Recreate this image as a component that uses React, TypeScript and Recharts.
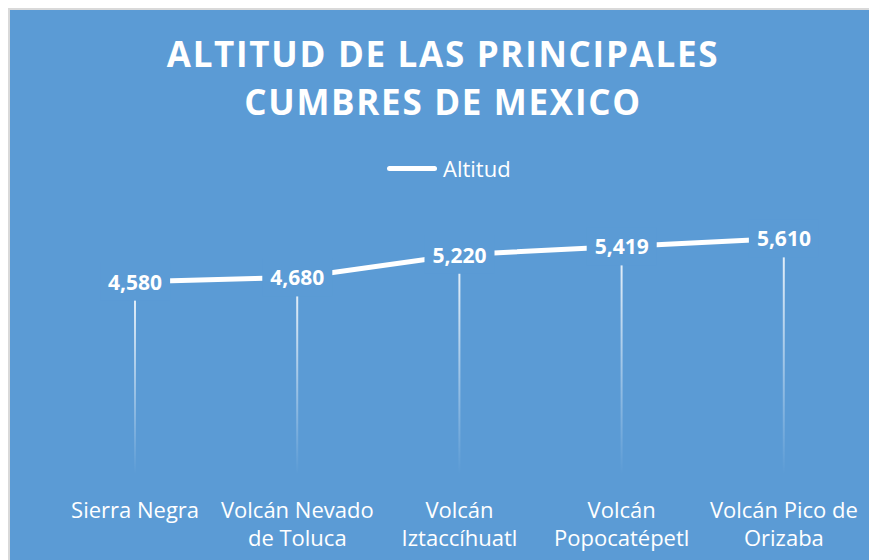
import React from 'react';
import { ComposedChart, Line, Bar, XAxis, YAxis, LabelList } from 'recharts';

const categories = ['Sierra Negra', 'Volcán Nevado de Toluca', 'Volcán Iztaccíhuatl', 'Volcán Popocatépetl', 'Volcán Pico de Orizaba'];
const altitudes = [4580, 4680, 5220, 5419, 5610];
const yTicks = [0, 1000, 2000, 3000, 4000, 5000, 6000];

const data = categories.map((name, i) => ({ name, altitud: altitudes[i] }));

const BG = '#5b9bd5';
const FONT = '"Open Sans", sans-serif';

// greedy wrap, roughly what Excel does with the band width
const wrap = (text: string, maxChars = 14) => {
    const lines: string[] = [];
    let cur = '';
    text.split(' ').forEach((w) => {
        const next = cur ? cur + ' ' + w : w;
        if (next.length > maxChars && cur) {
            lines.push(cur);
            cur = w;
        } else {
            cur = next;
        }
    });
    if (cur) lines.push(cur);
    return lines;
};

const CategoryTick = (props: any) => {
    const { x, y, payload } = props;
    const lines = wrap(payload.value);
    return (
        <text x={x} y={y} textAnchor="middle" fill="#fff" fontFamily={FONT} fontSize={22}>
            {lines.map((l, i) => (
                <tspan key={i} x={x} dy={i === 0 ? 36 : 28}>{l}</tspan>
            ))}
        </text>
    );
};

const ValueLabel = (props: any) => {
    const { x, y, value } = props;
    return (
        <g>
            <rect x={x - 35} y={y - 19} width={70} height={38} fill={BG} />
            <text x={x} y={y} dy={8} textAnchor="middle" fill="#fff" fontFamily={FONT} fontWeight={700} fontSize={21}>
                {Number(value).toLocaleString('en-US')}
            </text>
        </g>
    );
};

export default function App() {
    // fixed so the part running past the window never makes scrollbars
    return (
        <div style={{ position: 'fixed', top: 8, left: 8, width: 866, height: 560, background: BG, border: '2px solid #d9d9d9', overflow: 'hidden' }}>
            <div style={{
                position: 'absolute', top: 20, left: 0, width: 866, textAlign: 'center', color: '#fff',
                fontFamily: FONT, fontWeight: 700, fontSize: 35, lineHeight: '48px', letterSpacing: 1.7
            }}>
                ALTITUD DE LAS PRINCIPALES<br />CUMBRES DE MEXICO
            </div>
            <div style={{ position: 'absolute', top: 143, left: 377, display: 'flex', alignItems: 'center', height: 30 }}>
                <span style={{ display: 'inline-block', width: 50, height: 5, background: '#fff', borderRadius: 3, marginRight: 6 }} />
                <span style={{ color: '#fff', fontFamily: FONT, fontSize: 22, lineHeight: '30px' }}>Altitud</span>
            </div>
            <ComposedChart width={870} height={560} data={data} margin={{ top: 212, right: 15, bottom: 0, left: 44 }}>
                <defs>
                    <linearGradient id="dropFade" x1="0" y1="0" x2="0" y2="1">
                        <stop offset="0%" stopColor="#fff" stopOpacity={0.9} />
                        <stop offset="100%" stopColor="#fff" stopOpacity={0} />
                    </linearGradient>
                </defs>
                <XAxis dataKey="name" axisLine={false} tickLine={false} height={96} interval={0} tick={<CategoryTick />} />
                <YAxis hide domain={[0, 6000]} ticks={yTicks} />
                <Bar dataKey="altitud" barSize={2} fill="url(#dropFade)" isAnimationActive={false} legendType="none" />
                <Line
                    type="linear"
                    dataKey="altitud"
                    stroke="#fff"
                    strokeWidth={5}
                    dot={false}
                    activeDot={false}
                    isAnimationActive={false}
                >
                    <LabelList dataKey="altitud" content={<ValueLabel />} />
                </Line>
            </ComposedChart>
        </div>
    );
}
